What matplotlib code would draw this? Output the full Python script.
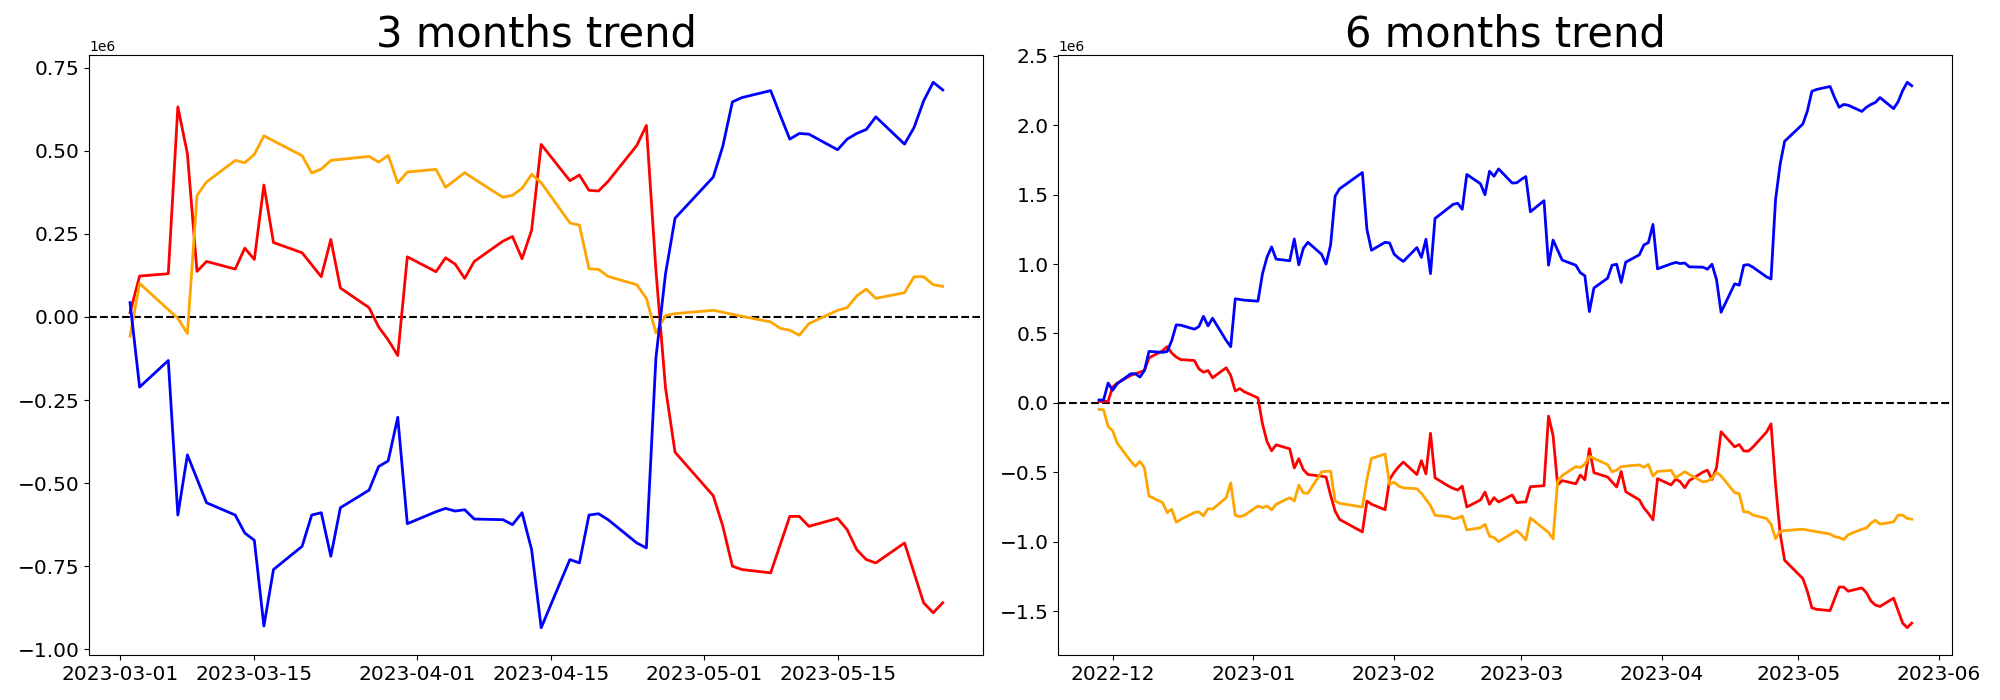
import pandas as pd
import matplotlib
matplotlib.use("Agg")
import matplotlib.pyplot as plt

# ---- 3 months (values in millions) ----
dates_3m = ["2023-03-02", "2023-03-03", "2023-03-06", "2023-03-07", "2023-03-08", "2023-03-09",
            "2023-03-10", "2023-03-13", "2023-03-14", "2023-03-15", "2023-03-16", "2023-03-17",
            "2023-03-20", "2023-03-21", "2023-03-22", "2023-03-23", "2023-03-24", "2023-03-27",
            "2023-03-28", "2023-03-29", "2023-03-30", "2023-03-31", "2023-04-03", "2023-04-04",
            "2023-04-05", "2023-04-06", "2023-04-07", "2023-04-10", "2023-04-11", "2023-04-12",
            "2023-04-13", "2023-04-14", "2023-04-17", "2023-04-18", "2023-04-19", "2023-04-20",
            "2023-04-21", "2023-04-24", "2023-04-25", "2023-04-26", "2023-04-27", "2023-04-28",
            "2023-05-02", "2023-05-03", "2023-05-04", "2023-05-05", "2023-05-08", "2023-05-09",
            "2023-05-10", "2023-05-11", "2023-05-12", "2023-05-15", "2023-05-16", "2023-05-17",
            "2023-05-18", "2023-05-19", "2023-05-22", "2023-05-23", "2023-05-24", "2023-05-25",
            "2023-05-26"]
blue_3m = [0.043, -0.211, -0.131, -0.596, -0.415, -0.487, -0.559, -0.596, -0.650, -0.672, -0.930, -0.760,
           -0.690, -0.596, -0.589, -0.720, -0.574, -0.521, -0.450, -0.433, -0.302, -0.622, -0.586, -0.576,
           -0.584, -0.580, -0.608, -0.610, -0.625, -0.589, -0.700, -0.935, -0.730, -0.740, -0.596, -0.592,
           -0.610, -0.680, -0.695, -0.123, 0.129, 0.297, 0.421, 0.514, 0.647, 0.660, 0.681, 0.607,
           0.535, 0.552, 0.550, 0.503, 0.535, 0.552, 0.564, 0.602, 0.520, 0.570, 0.650, 0.706,
           0.683]
red_3m = [0.013, 0.123, 0.130, 0.632, 0.491, 0.137, 0.167, 0.144, 0.207, 0.173, 0.397, 0.224,
          0.193, 0.157, 0.121, 0.233, 0.087, 0.028, -0.030, -0.069, -0.116, 0.181, 0.136, 0.178,
          0.159, 0.116, 0.167, 0.228, 0.242, 0.175, 0.261, 0.519, 0.410, 0.427, 0.381, 0.379,
          0.408, 0.516, 0.576, 0.140, -0.213, -0.407, -0.538, -0.630, -0.750, -0.760, -0.770, -0.685,
          -0.600, -0.600, -0.630, -0.606, -0.640, -0.700, -0.730, -0.740, -0.680, -0.770, -0.860, -0.890,
          -0.860]
orange_3m = [-0.058, 0.101, 0.022, -0.004, -0.050, 0.365, 0.406, 0.471, 0.464, 0.489, 0.545, 0.530,
             0.485, 0.433, 0.445, 0.471, 0.474, 0.483, 0.466, 0.486, 0.403, 0.436, 0.444, 0.390,
             0.412, 0.434, 0.415, 0.360, 0.366, 0.387, 0.429, 0.404, 0.283, 0.276, 0.145, 0.143,
             0.122, 0.097, 0.056, -0.048, 0.004, 0.010, 0.020, 0.014, 0.008, 0.002, -0.015, -0.034,
             -0.040, -0.055, -0.020, 0.020, 0.028, 0.063, 0.084, 0.056, 0.073, 0.121, 0.121, 0.097,
             0.092]

# ---- 6 months (values in millions) ----
dates_6m = ["2022-11-28", "2022-11-29", "2022-11-30", "2022-12-01", "2022-12-02", "2022-12-05",
            "2022-12-06", "2022-12-07", "2022-12-08", "2022-12-09", "2022-12-12", "2022-12-13",
            "2022-12-14", "2022-12-15", "2022-12-16", "2022-12-19", "2022-12-20", "2022-12-21",
            "2022-12-22", "2022-12-23", "2022-12-26", "2022-12-27", "2022-12-28", "2022-12-29",
            "2022-12-30", "2023-01-02", "2023-01-03", "2023-01-04", "2023-01-05", "2023-01-06",
            "2023-01-09", "2023-01-10", "2023-01-11", "2023-01-12", "2023-01-13", "2023-01-16",
            "2023-01-17", "2023-01-18", "2023-01-19", "2023-01-20", "2023-01-25", "2023-01-26",
            "2023-01-27", "2023-01-30", "2023-01-31", "2023-02-01", "2023-02-02", "2023-02-03",
            "2023-02-06", "2023-02-07", "2023-02-08", "2023-02-09", "2023-02-10", "2023-02-13",
            "2023-02-14", "2023-02-15", "2023-02-16", "2023-02-17", "2023-02-20", "2023-02-21",
            "2023-02-22", "2023-02-23", "2023-02-24", "2023-02-27", "2023-02-28", "2023-03-01"] + dates_3m
blue_6m = [0.021, 0.021, 0.143, 0.091, 0.138, 0.210, 0.210, 0.186, 0.234, 0.371, 0.364, 0.370,
           0.448, 0.562, 0.560, 0.531, 0.550, 0.624, 0.555, 0.610, 0.450, 0.405, 0.750, 0.745,
           0.740, 0.733, 0.931, 1.050, 1.124, 1.036, 1.024, 1.181, 0.995, 1.114, 1.157, 1.071,
           1.000, 1.138, 1.490, 1.543, 1.660, 1.250, 1.100, 1.157, 1.152, 1.071, 1.043, 1.019,
           1.119, 1.048, 1.179, 0.931, 1.329, 1.405, 1.431, 1.438, 1.395, 1.646, 1.579, 1.500,
           1.669, 1.633, 1.686, 1.584, 1.586, 1.610,
           1.631, 1.377, 1.457, 0.992, 1.173, 1.101, 1.029, 0.992, 0.938, 0.916, 0.658, 0.828,
           0.898, 0.992, 0.999, 0.868, 1.014, 1.067, 1.138, 1.155, 1.286, 0.966, 1.002, 1.012,
           1.004, 1.008, 0.980, 0.978, 0.963, 0.999, 0.888, 0.653, 0.858, 0.848, 0.992, 0.996,
           0.978, 0.908, 0.893, 1.465, 1.717, 1.885, 2.009, 2.102, 2.245, 2.258, 2.280, 2.200,
           2.130, 2.150, 2.145, 2.100, 2.130, 2.150, 2.165, 2.200, 2.120, 2.170, 2.250, 2.310,
           2.285]
red_6m = [0.010, 0.010, 0.012, 0.114, 0.143, 0.198, 0.210, 0.221, 0.233, 0.324, 0.376, 0.405,
          0.360, 0.330, 0.312, 0.305, 0.245, 0.221, 0.233, 0.181, 0.253, 0.198, 0.086, 0.103,
          0.080, 0.036, -0.152, -0.279, -0.345, -0.302, -0.331, -0.469, -0.402, -0.481, -0.516, -0.528,
          -0.535, -0.665, -0.780, -0.840, -0.930, -0.707, -0.730, -0.770, -0.552, -0.500, -0.460, -0.426,
          -0.516, -0.416, -0.512, -0.219, -0.540, -0.600, -0.616, -0.628, -0.600, -0.750, -0.700, -0.643,
          -0.731, -0.683, -0.714, -0.664, -0.719, -0.715,
          -0.714, -0.604, -0.597, -0.095, -0.236, -0.590, -0.560, -0.583, -0.520, -0.554, -0.330, -0.503,
          -0.534, -0.570, -0.606, -0.494, -0.640, -0.699, -0.757, -0.796, -0.843, -0.546, -0.591, -0.549,
          -0.568, -0.611, -0.560, -0.499, -0.485, -0.552, -0.466, -0.208, -0.317, -0.300, -0.346, -0.348,
          -0.319, -0.211, -0.151, -0.587, -0.940, -1.134, -1.265, -1.357, -1.477, -1.487, -1.497, -1.412,
          -1.327, -1.327, -1.357, -1.333, -1.367, -1.427, -1.457, -1.467, -1.407, -1.497, -1.587, -1.620,
          -1.587]
orange_6m = [-0.047, -0.050, -0.171, -0.200, -0.290, -0.421, -0.457, -0.421, -0.469, -0.671, -0.719, -0.790,
             -0.766, -0.860, -0.840, -0.790, -0.786, -0.814, -0.762, -0.766, -0.683, -0.576, -0.810, -0.820,
             -0.810, -0.743, -0.755, -0.743, -0.771, -0.731, -0.683, -0.707, -0.593, -0.648, -0.652, -0.498,
             -0.493, -0.493, -0.707, -0.724, -0.750, -0.550, -0.400, -0.369, -0.588, -0.571, -0.600, -0.612,
             -0.619, -0.652, -0.695, -0.740, -0.810, -0.820, -0.835, -0.830, -0.815, -0.915, -0.900, -0.875,
             -0.960, -0.970, -1.000, -0.940, -0.920, -0.950,
             -0.988, -0.829, -0.908, -0.934, -0.980, -0.565, -0.524, -0.459, -0.466, -0.441, -0.385, -0.400,
             -0.445, -0.497, -0.485, -0.459, -0.456, -0.447, -0.464, -0.444, -0.527, -0.494, -0.486, -0.540,
             -0.518, -0.496, -0.515, -0.570, -0.564, -0.543, -0.501, -0.526, -0.647, -0.654, -0.785, -0.787,
             -0.808, -0.833, -0.874, -0.978, -0.926, -0.920, -0.910, -0.916, -0.922, -0.928, -0.945, -0.964,
             -0.970, -0.985, -0.950, -0.910, -0.902, -0.867, -0.846, -0.874, -0.857, -0.809, -0.809, -0.833,
             -0.838]

fig, (ax1, ax2) = plt.subplots(1, 2, figsize=(20, 7), dpi=100)
fig.subplots_adjust(left=0.0447, right=0.9762, bottom=0.0643, top=0.9214, wspace=0.0839)

panels = [
    (ax1, dates_3m, blue_3m, red_3m, orange_3m, "3 months trend"),
    (ax2, dates_6m, blue_6m, red_6m, orange_6m, "6 months trend"),
]
for ax, d, b, r, o, title in panels:
    x = pd.to_datetime(d)
    ax.axhline(0, color="black", linestyle="--", linewidth=1.5)
    ax.plot(x, [v * 1e6 for v in r], color="red", linewidth=2)
    ax.plot(x, [v * 1e6 for v in o], color="orange", linewidth=2)
    ax.plot(x, [v * 1e6 for v in b], color="blue", linewidth=2)
    ax.set_title(title, fontsize=30)
    ax.tick_params(axis="both", labelsize=14.5)

plt.savefig("out.png")
